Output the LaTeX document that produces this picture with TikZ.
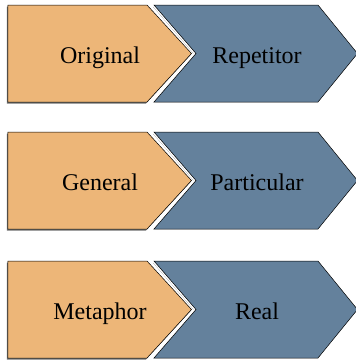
\documentclass[tikz,border=0pt]{standalone}
\usepackage{fontspec}
\setmainfont{Liberation Serif}
\definecolor{orangefill}{RGB}{237,182,120}
\definecolor{bluefill}{RGB}{100,129,156}
\definecolor{shadowgray}{RGB}{110,110,110}
\begin{document}
\begin{tikzpicture}[x=1pt,y=-1pt,
  orangeshape/.style={fill=orangefill,draw=black,line width=0.5pt,line join=miter},
  blueshape/.style={fill=bluefill,draw=black,line width=0.5pt,line join=miter},
  whiteborder/.style={draw=white,line width=3.5pt,line join=miter},
  shadowshape/.style={fill=shadowgray},
  lbl/.style={font=\fontsize{24}{27}\selectfont,text=black,inner sep=0pt,anchor=base}]
\useasboundingbox (0,0) rectangle (356,360);
\foreach \t/\a/\b/\n in {5/Original/Repetitor/1,132/General/Particular/2,261/Metaphor/Real/3}{
  \pgfmathsetmacro{\bt}{\t+97}
  \pgfmathsetmacro{\mt}{\t+48.5}
  % shadows
  \fill[shadowshape] (6.8,\t+1.5) -- (146,\t+1.5) -- (190.5,\mt+1.5) -- (146,\bt+1.5) -- (6.8,\bt+1.5) -- cycle;
  \fill[shadowshape] (152.8,\t+1.5) -- (316.8,\t+1.5) -- (356,\mt+1.5) -- (316.8,\bt+1.5) -- (152.8,\bt+1.5) -- (194.8,\mt+1.5) -- cycle;
  % orange
  \path[orangeshape] (8,\t) -- (147,\t) -- (191.5,\mt) -- (147,\bt) -- (8,\bt) -- cycle;
  % blue with white border
  \path[whiteborder] (154,\t) -- (318,\t) -- (357.5,\mt) -- (318,\bt) -- (154,\bt) -- (196,\mt) -- cycle;
  \path[blueshape] (154,\t) -- (318,\t) -- (357.5,\mt) -- (318,\bt) -- (154,\bt) -- (196,\mt) -- cycle;
  \node[lbl] (left\n) at (100,\mt+9.5) {\a};
  \node[lbl] (right\n) at (257,\mt+9.5) {\b};
}
\end{tikzpicture}
\end{document}
